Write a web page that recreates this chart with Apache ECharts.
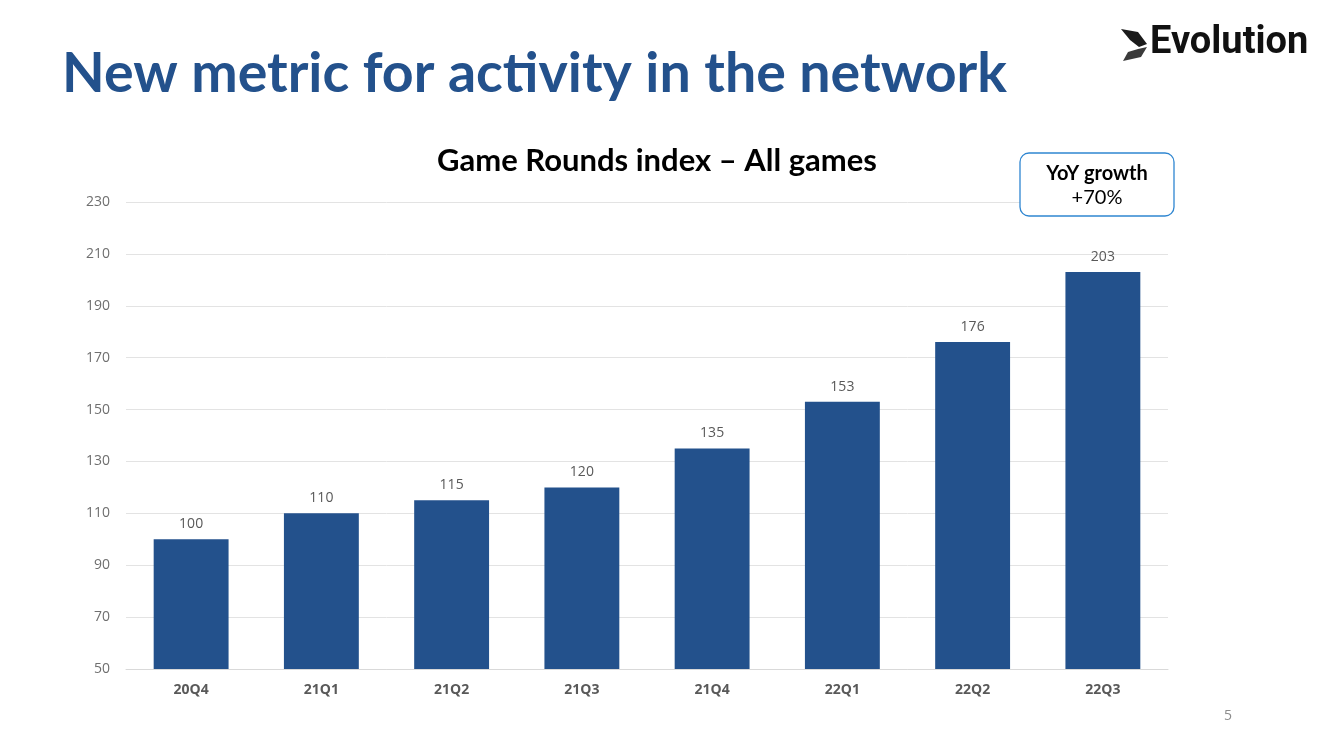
<!DOCTYPE html>
<html>
<head>
<meta charset="utf-8">
<script src="https://cdn.jsdelivr.net/npm/echarts@6/dist/echarts.min.js"></script>
<style>
  html, body { margin: 0; padding: 0; background: #fff; }
  #main { width: 1334px; height: 750px; }
</style>
</head>
<body>
<div id="main"></div>
<script>
// quarters and index values (20Q4 = 100)
var quarters = ["20Q4", "21Q1", "21Q2", "21Q3", "21Q4", "22Q1", "22Q2", "22Q3"];
var roundsIndex = [100, 110, 115, 120, 135, 153, 176, 203];
var yoyText = ["YoY growth", "+70%"];

var chart = echarts.init(document.getElementById("main"));
var blue = "#23518c";

var option = {
  backgroundColor: "#ffffff",
  animation: false,
  title: {
    text: "Game Rounds index – All games",
    left: 652,
    top: 140,
    textAlign: "center",
    textStyle: { fontFamily: "Lato", fontWeight: "bold", fontSize: 31, color: "#000" }
  },
  grid: { left: 126, right: 166, top: 202, bottom: 81 },
  xAxis: {
    type: "category",
    data: quarters,
    axisTick: { show: false },
    axisLine: { lineStyle: { color: "#d9d9d9" } },
    axisLabel: { color: "#595959", fontWeight: "bold", fontSize: 14, fontFamily: "Open Sans", margin: 14 }
  },
  yAxis: {
    type: "value",
    min: 50,
    max: 230,
    interval: 20,
    axisLine: { show: false },
    axisTick: { show: false },
    splitLine: { lineStyle: { color: "#e3e3e3" } },
    axisLabel: { color: "#6f6f6f", fontSize: 14, fontFamily: "Open Sans", margin: 16 }
  },
  series: [{
    type: "bar",
    data: roundsIndex,
    barWidth: "57.5%",
    itemStyle: { color: blue },
    label: {
      show: true,
      position: "top",
      distance: 8,
      color: "#595959",
      fontSize: 14,
      fontFamily: "Open Sans"
    }
  }],
  graphic: [
    {
      type: "text",
      left: 62,
      top: 46,
      style: { text: "New metric for activity in the network", fill: blue, font: "bold 55.5px Lato" }
    },
    {
      type: "rect",
      z: 20,
      shape: { x: 1020, y: 153, width: 154, height: 63, r: 9 },
      style: { fill: "#fff", stroke: "#2f86d1", lineWidth: 1.3 }
    },
    {
      type: "text",
      z: 21,
      x: 1097, y: 174,
      style: { text: yoyText[0], fill: "#000", font: "bold 20px Lato", align: "center", verticalAlign: "middle" }
    },
    {
      type: "text",
      z: 21,
      x: 1097, y: 198,
      style: { text: yoyText[1], fill: "#000", font: "20px Lato", align: "center", verticalAlign: "middle" }
    },
    // logo mark
    {
      type: "polygon",
      shape: { points: [[1121, 29], [1138, 32], [1147, 44], [1139, 47], [1130, 40]] },
      style: { fill: "#1a1a1a" }
    },
    {
      type: "polygon",
      shape: { points: [[1123, 61], [1128, 52], [1138, 49], [1147, 47], [1141, 57]] },
      style: { fill: "#3a3a3a" }
    },
    {
      type: "text",
      left: 1150,
      top: 24,
      style: { text: "Evolution", fill: "#111", font: "bold 38px Roboto" }
    },
    {
      type: "text",
      x: 1228, y: 716,
      style: { text: "5", fill: "#8c8c8c", font: "14px 'Open Sans'", align: "center", verticalAlign: "middle" }
    }
  ]
};

chart.setOption(option);
</script>
</body>
</html>
